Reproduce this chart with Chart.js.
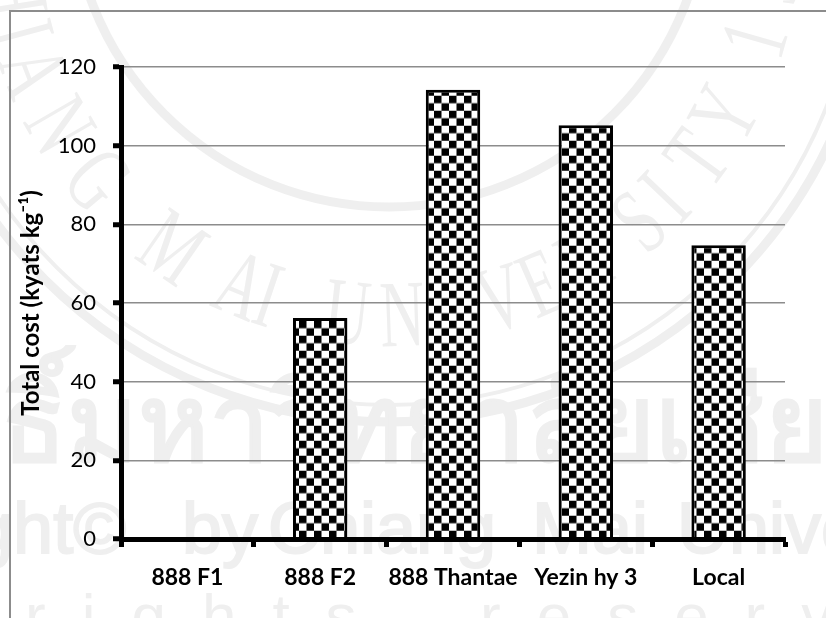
<!DOCTYPE html>
<html>

<head>
    <title>Total cost</title>
    <script src="https://cdn.jsdelivr.net/npm/chart.js"></script>
    <style>
        html, body { margin: 0; padding: 0; background: #fff; }
        #wrap { width: 826px; height: 618px; }
    </style>
</head>

<body>
    <div id="wrap"><canvas id="barChart" width="826" height="618"></canvas></div>

    <script>
        const categories = ['888 F1', '888 F2', '888 Thantae', 'Yezin hy 3', 'Local'];
        const totalCost = [0, 56.2, 114.2, 105.2, 74.7];
        const yTicks = [0, 20, 40, 60, 80, 100, 120];
        const axisTitle = 'Total cost (kyats kg⁻¹)';
        const watermarkThai = 'ลิขสิทธิ์มหาวิทยาลัยเชียงใหม่';
        const copyWords = ['Copyright©', 'by', 'Chiang', 'Mai', 'University'];
        const copyWordX = [-235, 182, 268, 532, 677];
        const rightsWords = ['rights', 'reserved'];
        const rightsWordX = [25, 480];
        const sealLetters = ['C', 'H', 'I', 'A', 'N', 'G', 'M', 'A', 'I', 'U', 'N', 'I', 'V', 'E', 'R', 'S', 'I', 'T', 'Y', '1', '9'];
        const sealAngles = [178, 171, 165, 159, 150, 140, 124.7, 112.9, 108.5, 96.3, 88, 80, 72.9, 66.4, 59.3, 48.9, 43.5, 35.9, 28.1, 15.9, 8];

        const labelFont = '"Lato", "Liberation Sans", sans-serif';
        const markColor = '#efefef';

        // 15px checker tile, two cells per side
        function checkerPattern(ctx) {
            const tile = document.createElement('canvas');
            tile.width = 15;
            tile.height = 15;
            const t = tile.getContext('2d');
            t.fillStyle = '#fff';
            t.fillRect(0, 0, 15, 15);
            t.fillStyle = '#000';
            t.fillRect(0, 0, 7.5, 7.5);
            t.fillRect(7.5, 7.5, 7.5, 7.5);
            const p = ctx.createPattern(tile, 'repeat');
            p.setTransform(new DOMMatrix().translate(-1, 5.7));
            return p;
        }

        function ring(c, x, y, r, w) {
            c.lineWidth = w;
            c.beginPath();
            c.arc(x, y, r, 0, Math.PI * 2);
            c.stroke();
        }

        // seal rings and lettering of the watermark
        function drawSeal(c) {
            c.strokeStyle = markColor;
            ring(c, 389, -111, 318, 9);
            ring(c, 389, -65, 470, 4);
            ring(c, 389, -65, 487, 9);
            c.fillStyle = markColor;
            c.font = '95px "Liberation Serif", serif';
            c.textAlign = 'center';
            sealLetters.forEach((ch, i) => {
                const a = sealAngles[i] * Math.PI / 180;
                c.save();
                c.translate(389 + 411 * Math.cos(a), -65 + 411 * Math.sin(a));
                c.rotate(a - Math.PI / 2);
                c.scale(0.65, 1);
                c.fillText(ch, 0, 0);
                c.restore();
            });
            c.textAlign = 'left';
        }

        // frame and faint watermark behind the chart
        const backdrop = {
            id: 'backdrop',
            beforeDraw(chart) {
                const c = chart.ctx;
                c.save();
                c.fillStyle = '#fff';
                c.fillRect(0, 0, 826, 618);
                drawSeal(c);
                c.fillStyle = markColor;
                c.strokeStyle = markColor;
                c.textBaseline = 'alphabetic';

                c.lineWidth = 3;
                c.font = '108px "Noto Sans", "DejaVu Sans", sans-serif';
                c.fillText(watermarkThai, -276, 461);
                c.strokeText(watermarkThai, -276, 461);

                c.lineWidth = 2;
                c.font = '72px "Liberation Sans", sans-serif';
                copyWords.forEach((w, i) => {
                    c.fillText(w, copyWordX[i], 553);
                    c.strokeText(w, copyWordX[i], 553);
                });
                c.font = '62px "Liberation Sans", sans-serif';
                c.letterSpacing = '36px';
                rightsWords.forEach((w, i) => c.fillText(w, rightsWordX[i], 637));
                c.letterSpacing = '0px';

                c.strokeStyle = '#8c8c8c';
                c.lineWidth = 2;
                c.strokeRect(10, 11, 900, 800);
                c.restore();
            }
        };

        const ctx = document.getElementById('barChart').getContext('2d');
        new Chart(ctx, {
            type: 'bar',
            data: {
                labels: categories,
                datasets: [{
                    data: totalCost,
                    backgroundColor: checkerPattern(ctx),
                    borderColor: '#000',
                    borderWidth: 3,
                    barPercentage: 0.41,
                    categoryPercentage: 1
                }]
            },
            plugins: [backdrop],
            options: {
                responsive: false,
                animation: false,
                layout: { padding: { top: 67, right: 41, left: 0, bottom: 0 } },
                plugins: { legend: { display: false }, tooltip: { enabled: false } },
                scales: {
                    x: {
                        afterFit(axis) { axis.height = 79; },
                        grid: { drawOnChartArea: false, tickLength: 8, tickWidth: 5, tickColor: '#000' },
                        border: { color: '#000', width: 5, z: 1 },
                        ticks: { color: '#000', padding: 17, maxRotation: 0, autoSkip: false, font: { family: labelFont, size: 23, weight: 'bold' } }
                    },
                    y: {
                        min: 0,
                        max: 120,
                        afterFit(axis) { axis.width = 121; },
                        afterBuildTicks(axis) { axis.ticks = yTicks.map(v => ({ value: v })); },
                        grid: { color: '#8c8c8c', lineWidth: 1.5, tickLength: 8, tickWidth: 5, tickColor: '#000' },
                        border: { color: '#000', width: 5 },
                        ticks: { color: '#000', padding: 17, font: { family: labelFont, size: 22 } },
                        title: { display: true, text: axisTitle, color: '#000', padding: { top: 17, bottom: 0 }, font: { family: labelFont, size: 24, weight: 'bold' } }
                    }
                }
            }
        });
    </script>
</body>

</html>
